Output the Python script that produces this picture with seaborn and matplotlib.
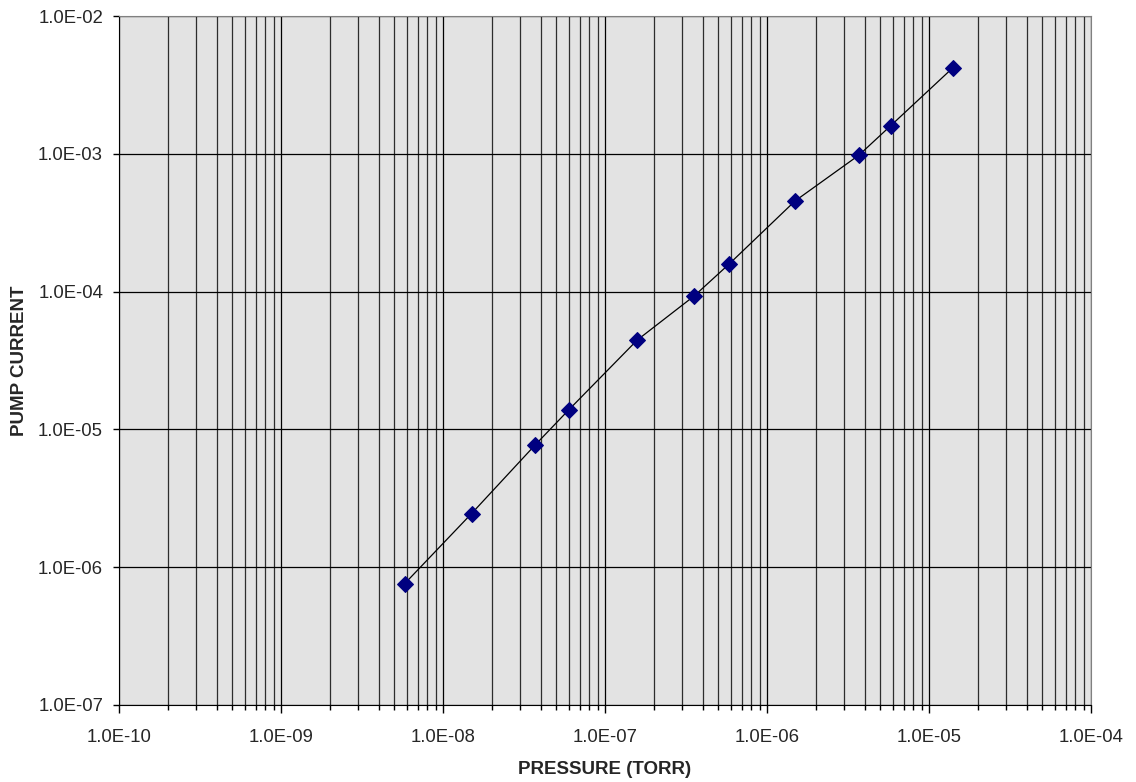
import numpy as np
import pandas as pd
import matplotlib
matplotlib.use("Agg")
import matplotlib.pyplot as plt
import matplotlib.ticker as mticker
import seaborn as sns

pressure = [5.8e-9, 1.5e-8, 3.7e-8, 5.95e-8, 1.58e-7, 3.55e-7, 5.85e-7,
            1.49e-6, 3.7e-6, 5.8e-6, 1.4e-5]
current = [7.6e-7, 2.45e-6, 7.7e-6, 1.38e-5, 4.45e-5, 9.3e-5, 1.59e-4,
           4.55e-4, 9.8e-4, 1.6e-3, 4.2e-3]

df = pd.DataFrame({"pressure": pressure, "current": current})

sns.set_style("white")
plt.rcParams["font.family"] = ["Liberation Sans", "DejaVu Sans"]

fig = plt.figure(figsize=(11.36, 7.82), dpi=100)
ax = fig.add_axes([0.1048, 0.0985, 0.8556, 0.881])
ax.set_facecolor("#e3e3e3")

ax.set_xscale("log")
ax.set_yscale("log")
ax.set_xlim(1e-10, 1e-4)
ax.set_ylim(1e-7, 1e-2)

# grid: every minor step on x, only decades on y
ax.xaxis.set_major_locator(mticker.LogLocator(base=10, numticks=10))
ax.xaxis.set_minor_locator(mticker.LogLocator(base=10, subs=np.arange(2, 10), numticks=20))
ax.yaxis.set_major_locator(mticker.LogLocator(base=10, numticks=10))
ax.yaxis.set_minor_locator(mticker.NullLocator())
ax.grid(which="major", axis="both", color="black", linewidth=0.9)
ax.grid(which="minor", axis="x", color="black", linewidth=0.9, alpha=0.8)
ax.set_axisbelow(True)

sns.lineplot(data=df, x="pressure", y="current", ax=ax, color="black",
             linewidth=0.9, marker="D", markersize=8,
             markerfacecolor="#000080", markeredgecolor="#000080")

fmt = mticker.FuncFormatter(lambda v, p: "%.1E" % v)
ax.xaxis.set_major_formatter(fmt)
ax.yaxis.set_major_formatter(fmt)
ax.xaxis.set_minor_formatter(mticker.NullFormatter())

ax.tick_params(axis="x", which="major", direction="out", length=6,
               width=1, color="black", labelsize=13.3, bottom=True, pad=11)
ax.tick_params(axis="y", which="major", direction="out", length=4.5,
               width=1, color="black", labelsize=13.3, left=True, pad=7)
ax.tick_params(axis="x", which="minor", direction="out", length=3.6,
               width=1, color="black", bottom=True)

for side in ["left", "bottom"]:
    ax.spines[side].set_color("black")
for side in ["top", "right"]:
    ax.spines[side].set_color("#808080")

ax.set_xlabel("PRESSURE (TORR)", fontsize=13.5, fontweight="bold", labelpad=11)
ax.set_ylabel("PUMP CURRENT", fontsize=13.5, fontweight="bold", labelpad=7.5)

fig.savefig("out.png", dpi=100)
